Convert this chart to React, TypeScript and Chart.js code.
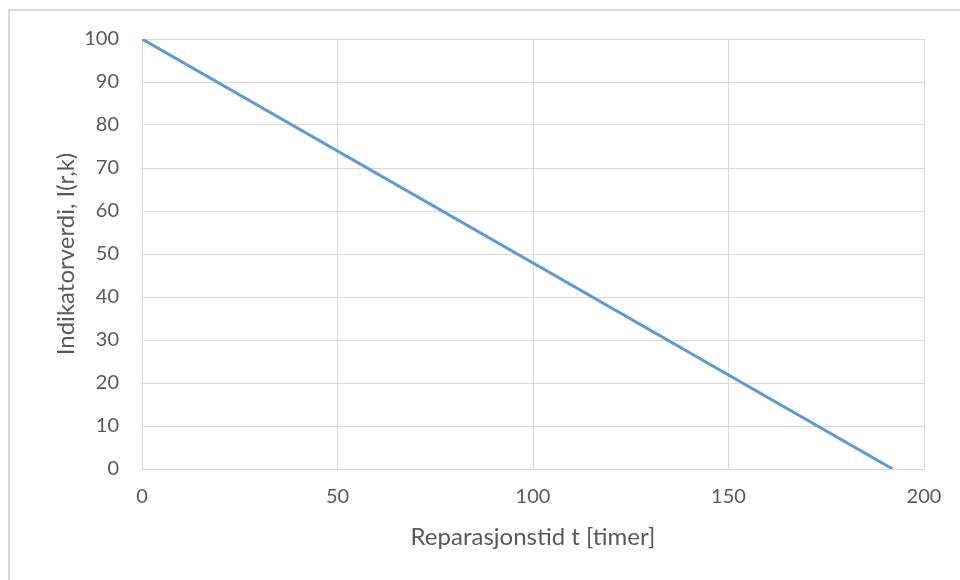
import React, { useEffect, useRef } from "react";
import { Chart, registerables } from "chart.js";

Chart.register(...registerables);

// Indicator value as a function of repair time
const repairHours = [0, 192];
const indicatorValues = [100, 0];

const xTicks = [0, 50, 100, 150, 200];
const yTicks = [0, 10, 20, 30, 40, 50, 60, 70, 80, 90, 100];

const xTitle = "Reparasjonstid t [timer]";
const yTitle = "Indikatorverdi, I(r,k)";

const FONT = "Lato, 'Open Sans', sans-serif";
const TEXT = "#595959";
const GRID = "#d9d9d9";

export default function App() {
  const canvasRef = useRef<HTMLCanvasElement | null>(null);

  useEffect(() => {
    const canvas = canvasRef.current;
    if (!canvas) return;
    const points = repairHours.map((x, i) => ({ x, y: indicatorValues[i] }));
    const chart = new Chart(canvas, {
      type: "scatter",
      data: {
        datasets: [
          {
            data: points,
            showLine: true,
            borderColor: "#5b9bd5",
            backgroundColor: "#5b9bd5",
            borderWidth: 3,
            pointRadius: 0,
            tension: 0,
          },
        ],
      },
      options: {
        animation: false,
        responsive: false,
        maintainAspectRatio: false,
        layout: { padding: { left: 52, right: 36, top: 39, bottom: 28 } },
        plugins: { legend: { display: false }, tooltip: { enabled: false } },
        scales: {
          x: {
            type: "linear",
            min: xTicks[0],
            max: xTicks[xTicks.length - 1],
            afterBuildTicks: (s: any) => {
              s.ticks = xTicks.map((v) => ({ value: v }));
            },
            afterFit: (s: any) => {
              s.height = 83;
            },
            grid: { color: GRID, lineWidth: 1, drawTicks: false },
            border: { color: GRID, width: 1 },
            ticks: { color: TEXT, font: { family: FONT, size: 20 }, padding: 16 },
            title: {
              display: true,
              text: xTitle,
              color: TEXT,
              font: { family: FONT, size: 24 },
              padding: { top: 0, bottom: 0 },
            },
          },
          y: {
            type: "linear",
            min: yTicks[0],
            max: yTicks[yTicks.length - 1],
            afterBuildTicks: (s: any) => {
              s.ticks = yTicks.map((v) => ({ value: v }));
            },
            afterFit: (s: any) => {
              s.width = 90;
            },
            grid: { color: GRID, lineWidth: 1, drawTicks: false },
            border: { color: GRID, width: 1 },
            ticks: { color: TEXT, font: { family: FONT, size: 20 }, padding: 23 },
            title: {
              display: true,
              text: yTitle,
              color: TEXT,
              font: { family: FONT, size: 24 },
              padding: { top: 0, bottom: 0 },
            },
          },
        },
      },
    });
    return () => chart.destroy();
  }, []);

  return (
    <div style={{ position: "fixed", left: 0, top: 0, width: 960, height: 580, background: "#fff", overflow: "hidden" }}>
      <div
        style={{
          position: "absolute",
          left: 8,
          top: 9,
          width: 1000,
          height: 620,
          borderLeft: `2px solid ${GRID}`,
          borderTop: `2px solid ${GRID}`,
          boxSizing: "border-box",
        }}
      />
      <canvas ref={canvasRef} width={960} height={580} style={{ position: "absolute", left: 0, top: 0, display: "block" }} />
    </div>
  );
}
